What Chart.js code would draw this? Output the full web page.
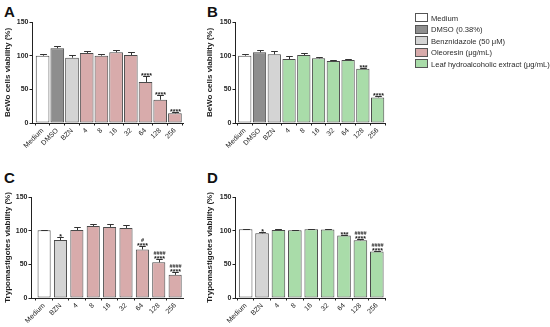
<!DOCTYPE html>
<html><head><meta charset="utf-8">
<script src="https://cdn.jsdelivr.net/npm/chart.js@4/dist/chart.umd.min.js"></script>
<style>
body{margin:0;background:#fff;width:550px;height:327px;position:relative;overflow:hidden;font-family:Arial,"Liberation Sans",sans-serif;}
canvas{position:absolute;}
.pl{position:absolute;font-weight:bold;font-size:15px;color:#111;}
#legend{position:absolute;left:0;top:0;width:550px;height:80px;will-change:transform;transform:translateZ(0);}
.lg{position:absolute;left:415px;font-size:7.6px;color:#2a2a2a;line-height:10px;white-space:nowrap;}
.lg span{display:inline-block;width:11px;height:7px;border:1px solid #555;vertical-align:middle;margin-right:3px;margin-top:-2px;}
</style></head><body>
<div class="pl" style="left:4px;top:3px">A</div>
<div class="pl" style="left:207px;top:3px">B</div>
<div class="pl" style="left:4px;top:169px">C</div>
<div class="pl" style="left:207px;top:169px">D</div>
<canvas id="cA" width="190" height="160" style="left:0;top:0"></canvas>
<canvas id="cB" width="190" height="160" style="left:202px;top:0"></canvas>
<canvas id="cC" width="190" height="167" style="left:0;top:160px"></canvas>
<canvas id="cD" width="190" height="167" style="left:202px;top:160px"></canvas>
<div id="legend"></div>
<script>
// ---- data ----
const labelsAB = ["Medium","DMSO","BZN","4","8","16","32","64","128","256"];
const labelsCD = ["Medium","BZN","4","8","16","32","64","128","256"];
const valuesA = [100,111,97,104,100,105,101,61,34.5,14.3];
const errorsA = [2.5,3.5,4,2.5,3,4,5,8.5,7.5,2];
const annotA  = [[],[],[],[],[],[],[],["****"],["****"],["****"]];
const valuesB = [100,105,102,95,101,96,92,93.7,80.4,38];
const errorsB = [2.5,3.5,4.5,4,2.5,2.5,1,1.5,1.5,1.5];
const annotB  = [[],[],[],[],[],[],[],[],["***"],["****"]];
const valuesC = [100.6,86,101,107,105.6,104,72,53,34.4];
const errorsC = [1,5,4,3.5,4,4,5,4.5,4];
const annotC  = [[],["*"],[],[],[],[],["****","#"],["****","####"],["****","####"]];
const valuesD = [102,96,101,100.6,102,101.6,92.7,85.7,69];
const errorsD = [1,1.5,1,1,1,1,1,1.5,1];
const annotD  = [[],["*"],[],[],[],[],["***"],["****","####"],["****","####"]];
const yTicks = [0,50,100,150];
const legendItems = ["Medium","DMSO (0.38%)","Benznidazole (50 \u03bcM)","Oleoresin (\u03bcg/mL)","Leaf hydroalcoholic extract (\u03bcg/mL)"];
const legendColors = ["#ffffff","#8e8e8e","#d4d4d4","#d8abab","#a9dca9"];
const colorsA = ["#ffffff","#8e8e8e","#d4d4d4"].concat(Array(7).fill("#d8abab"));
const colorsB = ["#ffffff","#8e8e8e","#d4d4d4"].concat(Array(7).fill("#a9dca9"));
const colorsC = ["#ffffff","#d4d4d4"].concat(Array(7).fill("#d8abab"));
const colorsD = ["#ffffff","#d4d4d4"].concat(Array(7).fill("#a9dca9"));

const FONT = 'Arial, "Liberation Sans", sans-serif';
const INK = '#1e1e1e';

// widen the category scale so the first bar sits a little away from the y axis
const gapPlugin = {
  id:'gap',
  afterLayout(chart, args, opts){
    const s = chart.scales.x;
    const n = chart.data.labels.length;
    s._startValue = -opts.left;
    s._valueRange = (n-1) + opts.left + opts.right;
  }
};

const errPlugin = {
  id:'err',
  afterDatasetsDraw(chart, args, opts){
    const ctx = chart.ctx, y = chart.scales.y;
    const meta = chart.getDatasetMeta(0);
    const vals = chart.data.datasets[0].data;
    ctx.save();
    ctx.strokeStyle = '#333'; ctx.lineWidth = 1;
    ctx.fillStyle = INK; ctx.textAlign='center';
    meta.data.forEach((bar,i)=>{
      const v = vals[i], e = opts.errors[i];
      const y0 = y.getPixelForValue(v), y1 = y.getPixelForValue(v+e);
      const x = Math.round(bar.x)+0.5, hw = bar.width*0.25;
      ctx.beginPath();
      ctx.moveTo(x,y0); ctx.lineTo(x,Math.round(y1)+0.5);
      ctx.moveTo(x-hw,Math.round(y1)+0.5); ctx.lineTo(x+hw,Math.round(y1)+0.5);
      ctx.stroke();
      let cy = y1 - 1;
      (opts.annot[i]||[]).forEach(t=>{
        if(t.indexOf('*')>=0){
          ctx.font = 'bold 7px '+FONT;
          ctx.fillText(t, x, cy+2.8);
          cy -= 2.8;
        } else {
          ctx.font = 'bold 5.5px '+FONT;
          ctx.fillText(t, x, cy);
          cy -= 5;
        }
      });
    });
    ctx.restore();
  }
};

function makeChart(id, labels, values, errors, annot, colors, title, yW, xH, padTop, padRight, gapL, gapR, barPct){
  new Chart(document.getElementById(id), {
    type:'bar',
    data:{labels, datasets:[{data:values, backgroundColor:colors, borderColor:'#4a4a4a', borderWidth:1, borderSkipped:false, barPercentage:barPct, categoryPercentage:1}]},
    options:{
      responsive:false, animation:false, devicePixelRatio:1,
      layout:{padding:{top:padTop, right:padRight, left:0, bottom:0}},
      plugins:{legend:{display:false}, tooltip:{enabled:false}, err:{errors, annot}, gap:{left:gapL, right:gapR}},
      scales:{
        x:{type:'category', offset:true,
          grid:{display:true, drawOnChartArea:false, drawTicks:true, tickLength:2.5, color:'#222', lineWidth:1},
          border:{display:true, color:'#222', width:1},
          ticks:{autoSkip:false, maxRotation:45, minRotation:45, padding:1, color:INK, font:{family:FONT, size:7}},
          afterFit(s){ s.height = xH; }
        },
        y:{min:0, max:150,
          afterBuildTicks(s){ s.ticks = yTicks.map(v=>({value:v})); },
          grid:{display:true, drawOnChartArea:false, drawTicks:true, tickLength:2.5, color:'#222', lineWidth:1},
          border:{display:true, color:'#222', width:1},
          ticks:{padding:1, color:INK, font:{family:FONT, size:7, weight:'bold'}},
          title:{display:true, text:title, color:INK, padding:{top:3,bottom:0}, font:{family:FONT, size:8, weight:'bold'}},
          afterFit(s){ s.width = yW; }
        }
      }
    },
    plugins:[gapPlugin, errPlugin]
  });
}

makeChart('cA', labelsAB, valuesA, errorsA, annotA, colorsA, 'BeWo cells viability (%)', 32, 37, 22, 7, 0.72, 0.55, 0.93);
makeChart('cB', labelsAB, valuesB, errorsB, annotB, colorsB, 'BeWo cells viability (%)', 33, 37, 22, 7, 0.66, 0.5, 0.9);
makeChart('cC', labelsCD, valuesC, errorsC, annotC, colorsC, 'Trypomastigotes viability (%)', 31, 29, 37, 7, 0.8, 0.48, 0.8);
makeChart('cD', labelsCD, valuesD, errorsD, annotD, colorsD, 'Trypomastigotes viability (%)', 33, 29, 37, 7, 0.65, 0.5, 0.83);

const lg = document.getElementById('legend');
const rowY = [13.5, 25, 36.5, 48, 59.5];
legendItems.forEach((t,i)=>{
  const d = document.createElement('div');
  d.className='lg'; d.style.top = rowY[i]+'px';
  d.innerHTML = '<span style="background:'+legendColors[i]+'"></span>'+t;
  lg.appendChild(d);
});
</script>
</body></html>
